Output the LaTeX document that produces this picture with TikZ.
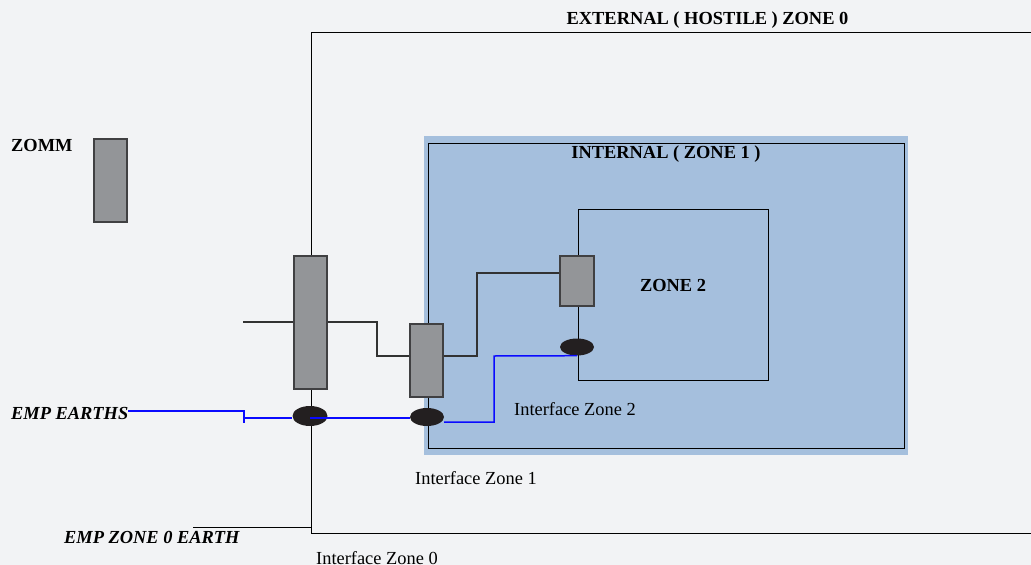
\documentclass[tikz,border=0pt]{standalone}
\usepackage{fontspec}
\setmainfont{Liberation Serif}
\definecolor{bg}{RGB}{242,243,245}
\definecolor{zoneblue}{RGB}{165,191,221}
\definecolor{compgray}{RGB}{147,149,152}
\definecolor{compedge}{RGB}{64,64,66}
\definecolor{earthblack}{RGB}{35,31,32}
\definecolor{wire}{RGB}{50,50,50}
\definecolor{earthblue}{RGB}{10,10,255}
\begin{document}
\begin{tikzpicture}[x=1pt,y=-1pt,
  comp/.style={draw=compedge,line width=1.3pt,fill=compgray,inner sep=0pt},
  earth/.style={ellipse,fill=earthblack,inner sep=0pt},
  zoneline/.style={draw=black,line width=1pt},
  wireline/.style={draw=wire,line width=1.3pt},
  blueline/.style={draw=earthblue,line width=1.5pt},
  lbl/.style={inner sep=0pt,font=\fontsize{18.4}{20}\selectfont},
  blbl/.style={inner sep=0pt,font=\fontsize{18.4}{20}\selectfont\bfseries},
  bilbl/.style={inner sep=0pt,font=\fontsize{18.4}{20}\selectfont\bfseries\itshape}]
\usetikzlibrary{shapes.geometric}
\fill[bg] (0,0) rectangle (1031,565);
\useasboundingbox (0,0) rectangle (1031,565);
% zone 1 blue field
\fill[zoneblue] (424,136) rectangle (908,455);
% zone 0 outline
\draw[zoneline] (1031,32) -- (311,32) -- (311,533) -- (1031,533);
% zone 1 and zone 2 outlines
\draw[zoneline] (428,143) rectangle (904,448);
\draw[zoneline] (578,209) rectangle (768,380);
% EMP zone 0 earth line
\coordinate (z0e) at (193,527);
\draw[zoneline] (z0e) -- (311,527);
% components
\node[comp,minimum width=33pt,minimum height=83pt] (C0) at (110.5,180.5) {};
\node[comp,minimum width=33pt,minimum height=133pt] (C1) at (310.5,322.5) {};
\node[comp,minimum width=33pt,minimum height=73pt] (C2) at (426.5,360.5) {};
\node[comp,minimum width=34pt,minimum height=50pt] (C3) at (577,281) {};
% earth bonds
\node[earth,minimum width=35pt,minimum height=20pt] (E1) at (310,416) {};
\node[earth,minimum width=34pt,minimum height=18pt] (E2) at (427,417) {};
\node[earth,minimum width=34pt,minimum height=17pt] (E3) at (577,347) {};
% black signal wires
\coordinate (win) at (243,322);
\draw[wireline] (win) -- (C1.west |- win);
\draw[wireline] (C1.east |- win) -- (377,322) -- (377,356) -- (C2.west |- {(0,356)});
\draw[wireline] (C2.east |- {(0,356)}) -- (477,356) -- (477,273) -- (C3.west |- {(0,273)});
% blue earth wires
\node[bilbl,anchor=west] (emp) at (11,413) {EMP EARTHS};
\draw[blueline] (emp.east |- {(0,411)}) -- (244,411) -- (244,423);
\draw[blueline] (244,418) -- (E1.west |- {(0,418)});
\draw[blueline] (E1.center |- {(0,418)}) -- (E2.west |- {(0,418)});
\draw[blueline] (E2.east |- {(0,422)}) -- (494,422) -- (494,356) -- (E3.south);
% labels
\node[blbl] (t0) at (707.5,20) {EXTERNAL ( HOSTILE ) ZONE 0};
\node[blbl] (t1) at (666,154) {INTERNAL ( ZONE 1 )};
\node[blbl] (t2) at (673,285) {ZONE 2};
\node[blbl,anchor=west] (zomm) at (11,145) {ZOMM};
\node[lbl] (iz2) at (575,409) {Interface Zone 2};
\node[lbl,anchor=west] (iz1) at (415,478) {Interface Zone 1};
\node[lbl,anchor=west] (iz0) at (316,558) {Interface Zone 0};
\node[bilbl,anchor=west] (emp0) at (64,537) {EMP ZONE 0 EARTH};
\end{tikzpicture}
\end{document}
